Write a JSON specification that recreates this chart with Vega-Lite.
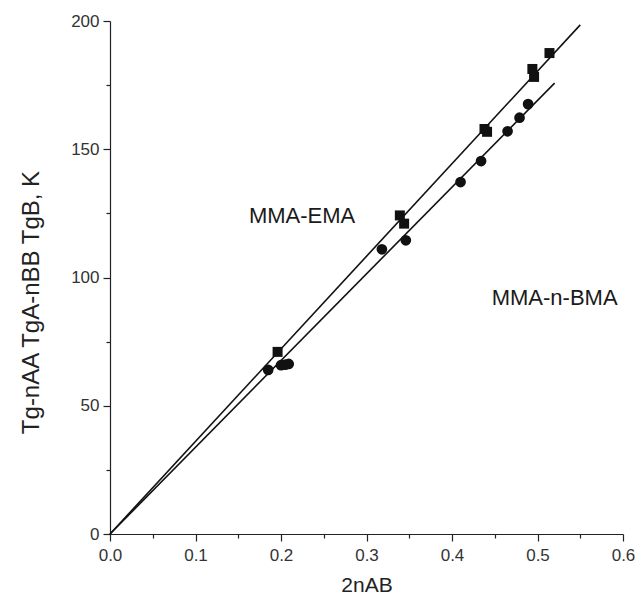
{
  "$schema": "https://vega.github.io/schema/vega-lite/v6.json",
  "width": 513,
  "height": 513,
  "autosize": {"type": "none"},
  "padding": {"left": 110, "top": 21, "right": 17, "bottom": 76},
  "background": "white",
  "config": {"view": {"stroke": null}, "font": "Liberation Sans"},
  "datasets": {
    "points": [
      {"series": "MMA-EMA", "x": 0.196, "y": 71.0},
      {"series": "MMA-EMA", "x": 0.339, "y": 124.2},
      {"series": "MMA-EMA", "x": 0.344, "y": 121.0},
      {"series": "MMA-EMA", "x": 0.438, "y": 157.9},
      {"series": "MMA-EMA", "x": 0.441, "y": 156.8},
      {"series": "MMA-EMA", "x": 0.494, "y": 181.3},
      {"series": "MMA-EMA", "x": 0.496, "y": 178.2},
      {"series": "MMA-EMA", "x": 0.514, "y": 187.5},
      {"series": "MMA-n-BMA", "x": 0.185, "y": 64.0},
      {"series": "MMA-n-BMA", "x": 0.200, "y": 65.8},
      {"series": "MMA-n-BMA", "x": 0.205, "y": 66.0},
      {"series": "MMA-n-BMA", "x": 0.209, "y": 66.3},
      {"series": "MMA-n-BMA", "x": 0.318, "y": 111.0},
      {"series": "MMA-n-BMA", "x": 0.346, "y": 114.5},
      {"series": "MMA-n-BMA", "x": 0.410, "y": 137.2},
      {"series": "MMA-n-BMA", "x": 0.434, "y": 145.4},
      {"series": "MMA-n-BMA", "x": 0.465, "y": 157.0},
      {"series": "MMA-n-BMA", "x": 0.479, "y": 162.3},
      {"series": "MMA-n-BMA", "x": 0.489, "y": 167.6}
    ],
    "lines": [
      {"series": "MMA-EMA", "x": 0, "y": 0},
      {"series": "MMA-EMA", "x": 0.55, "y": 198.5},
      {"series": "MMA-n-BMA", "x": 0, "y": 0},
      {"series": "MMA-n-BMA", "x": 0.52, "y": 175.8}
    ],
    "labels": [
      {"label": "MMA-EMA", "x": 0.2246, "y": 124},
      {"label": "MMA-n-BMA", "x": 0.52, "y": 92}
    ]
  },
  "layer": [
    {
      "data": {"name": "lines"},
      "mark": {"type": "line", "color": "#111", "strokeWidth": 1.6},
      "encoding": {
        "x": {
          "field": "x", "type": "quantitative",
          "scale": {"domain": [0, 0.6], "nice": false},
          "axis": {
            "title": "2nAB",
            "values": [0, 0.05, 0.1, 0.15, 0.2, 0.25, 0.3, 0.35, 0.4, 0.45, 0.5, 0.55, 0.6],
            "labelExpr": "round(datum.value*100) % 10 == 0 ? format(datum.value, '.1f') : ''",
            "tickSize": {"condition": {"test": "round(datum.value*100) % 10 == 0", "value": 7}, "value": 4},
            "grid": false,
            "domainColor": "#222", "tickColor": "#222", "domainWidth": 1.2, "tickWidth": 1.2,
            "labelColor": "#333", "labelFontSize": 17, "labelPadding": 6,
            "titleColor": "#222", "titleFontSize": 21, "titleFontWeight": "normal", "titlePadding": 11,
            "labelFlush": false
          }
        },
        "y": {
          "field": "y", "type": "quantitative",
          "scale": {"domain": [0, 200], "nice": false},
          "axis": {
            "title": "Tg-nAA TgA-nBB TgB, K",
            "values": [0, 25, 50, 75, 100, 125, 150, 175, 200],
            "labelExpr": "datum.value % 50 == 0 ? format(datum.value, 'd') : ''",
            "tickSize": {"condition": {"test": "datum.value % 50 == 0", "value": 7}, "value": 4},
            "grid": false,
            "domainColor": "#222", "tickColor": "#222", "domainWidth": 1.2, "tickWidth": 1.2,
            "labelColor": "#333", "labelFontSize": 17, "labelPadding": 4,
            "titleColor": "#222", "titleFontSize": 24, "titleFontWeight": "normal", "titlePadding": 27,
            "titleY": 281,
            "labelFlush": false
          }
        },
        "detail": {"field": "series"}
      }
    },
    {
      "data": {"name": "points"},
      "mark": {"type": "point", "filled": true, "opacity": 1, "color": "#111"},
      "encoding": {
        "x": {"field": "x", "type": "quantitative"},
        "y": {"field": "y", "type": "quantitative"},
        "shape": {"field": "series", "type": "nominal", "scale": {"domain": ["MMA-EMA", "MMA-n-BMA"], "range": ["square", "circle"]}, "legend": null},
        "size": {"field": "series", "type": "nominal", "scale": {"domain": ["MMA-EMA", "MMA-n-BMA"], "range": [100, 115]}, "legend": null}
      }
    },
    {
      "data": {"name": "labels"},
      "mark": {"type": "text", "fontSize": 22, "color": "#1a1a1a", "align": "center", "baseline": "middle"},
      "encoding": {
        "x": {"field": "x", "type": "quantitative"},
        "y": {"field": "y", "type": "quantitative"},
        "text": {"field": "label"}
      }
    }
  ]
}
